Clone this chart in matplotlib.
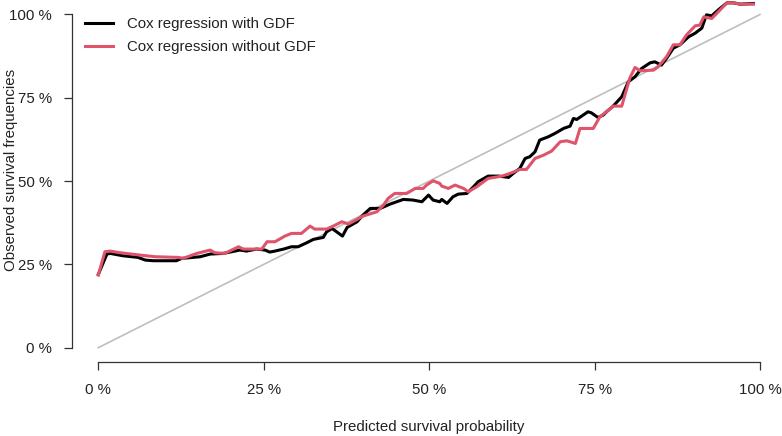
import matplotlib
matplotlib.use("Agg")
import matplotlib.pyplot as plt

plt.rcParams['font.family'] = ['Liberation Sans', 'DejaVu Sans']

# Data
black_x = [0.000, 0.013, 0.018, 0.037, 0.060, 0.071, 0.083, 0.118, 0.126, 0.154,
           0.169, 0.189, 0.214, 0.224, 0.239, 0.252, 0.259, 0.267, 0.280, 0.292,
           0.302, 0.315, 0.325, 0.340, 0.345, 0.353, 0.360, 0.369, 0.376, 0.391,
           0.400, 0.411, 0.426, 0.441, 0.451, 0.461, 0.476, 0.489, 0.499, 0.506,
           0.516, 0.519, 0.527, 0.536, 0.544, 0.557, 0.567, 0.574, 0.589, 0.605,
           0.620, 0.627, 0.637, 0.645, 0.652, 0.660, 0.667, 0.680, 0.690, 0.703,
           0.713, 0.718, 0.723, 0.740, 0.745, 0.755, 0.763, 0.768, 0.778, 0.791,
           0.801, 0.811, 0.821, 0.834, 0.841, 0.851, 0.859, 0.869, 0.879, 0.892,
           0.902, 0.912, 0.919, 0.927, 0.937, 0.950, 0.960, 0.970, 0.990]
black_y = [0.220, 0.281, 0.283, 0.276, 0.271, 0.263, 0.261, 0.261, 0.268, 0.273,
           0.281, 0.283, 0.293, 0.290, 0.296, 0.293, 0.287, 0.290, 0.296, 0.303,
           0.303, 0.315, 0.325, 0.331, 0.348, 0.358, 0.348, 0.335, 0.361, 0.378,
           0.398, 0.418, 0.418, 0.431, 0.438, 0.445, 0.443, 0.438, 0.458, 0.443,
           0.438, 0.445, 0.433, 0.453, 0.461, 0.463, 0.483, 0.498, 0.515, 0.515,
           0.511, 0.523, 0.538, 0.568, 0.573, 0.588, 0.623, 0.633, 0.643, 0.658,
           0.665, 0.688, 0.685, 0.708, 0.705, 0.691, 0.698, 0.708, 0.725, 0.753,
           0.798, 0.813, 0.838, 0.855, 0.858, 0.848, 0.869, 0.899, 0.909, 0.933,
           0.944, 0.959, 0.999, 0.996, 1.014, 1.035, 1.035, 1.031, 1.033]

red_x = [0.000, 0.010, 0.018, 0.033, 0.063, 0.086, 0.121, 0.128, 0.149, 0.169,
         0.176, 0.191, 0.212, 0.219, 0.247, 0.255, 0.267, 0.282, 0.292, 0.307,
         0.320, 0.327, 0.345, 0.355, 0.368, 0.378, 0.391, 0.400, 0.421, 0.431,
         0.438, 0.448, 0.466, 0.479, 0.491, 0.496, 0.506, 0.516, 0.519, 0.529,
         0.539, 0.552, 0.559, 0.572, 0.589, 0.610, 0.622, 0.637, 0.647, 0.660,
         0.673, 0.685, 0.698, 0.708, 0.721, 0.728, 0.748, 0.758, 0.771, 0.778,
         0.791, 0.803, 0.811, 0.819, 0.839, 0.846, 0.859, 0.869, 0.879, 0.889,
         0.902, 0.909, 0.915, 0.927, 0.950, 0.960, 0.970, 0.990]
red_y = [0.218, 0.288, 0.290, 0.285, 0.278, 0.273, 0.271, 0.268, 0.283, 0.293,
         0.285, 0.283, 0.303, 0.296, 0.296, 0.318, 0.318, 0.335, 0.343, 0.343,
         0.365, 0.356, 0.356, 0.365, 0.378, 0.371, 0.385, 0.395, 0.408, 0.428,
         0.448, 0.463, 0.463, 0.478, 0.478, 0.488, 0.501, 0.493, 0.485, 0.478,
         0.488, 0.478, 0.468, 0.483, 0.508, 0.515, 0.523, 0.535, 0.535, 0.568,
         0.578, 0.590, 0.618, 0.621, 0.613, 0.658, 0.658, 0.693, 0.713, 0.725,
         0.725, 0.808, 0.841, 0.831, 0.833, 0.843, 0.874, 0.909, 0.909, 0.939,
         0.966, 0.968, 0.993, 0.988, 1.035, 1.035, 1.031, 1.031]

diag = [0.0, 1.0]
ticks = [0.0, 0.25, 0.5, 0.75, 1.0]
tick_labels = ["0 %", "25 %", "50 %", "75 %", "100 %"]

W, H = 782, 436
fig = plt.figure(figsize=(W / 100, H / 100), dpi=100)
left_px, bottom_px = 71.7, 361.7
ax = fig.add_axes([left_px / W, (H - bottom_px) / H, (W - left_px) / W, bottom_px / H])
ax.set_xlim(-0.0402, 1.0332)
ax.set_ylim(-0.042, 1.0435)

ax.plot(diag, diag, color='#BEBEBE', lw=1.2, zorder=1)
ax.plot(black_x, black_y, color='black', lw=2.2, zorder=2, clip_on=False,
        label="Cox regression with GDF")
ax.plot(red_x, red_y, color='#DF536B', lw=2.2, zorder=3, clip_on=False,
        label="Cox regression without GDF")

for s in ['top', 'right']:
    ax.spines[s].set_visible(False)
ax.spines['left'].set_bounds(0, 1)
ax.spines['bottom'].set_bounds(0, 1)
for s in ['left', 'bottom']:
    ax.spines[s].set_color('#333333')
    ax.spines[s].set_linewidth(0.9)

fs = 10.8
ax.set_xticks(ticks)
ax.set_xticklabels(tick_labels)
ax.set_yticks(ticks)
ax.set_yticklabels(tick_labels)
ax.tick_params(axis='both', length=5.8, width=0.9, color='#333333',
               labelsize=fs, labelcolor='#222222')
ax.tick_params(axis='y', pad=8.5)
ax.tick_params(axis='x', pad=9.5)

fig.text(429 / W, 1 - 427 / H, "Predicted survival probability", ha='center', va='center',
         fontsize=fs, color='#222222')
fig.text(11.5 / W, 1 - 170 / H, "Observed survival frequencies", ha='center', va='center',
         rotation=90, fontsize=fs, color='#222222')

leg = ax.legend(loc='upper left', bbox_to_anchor=(85 / W, 1 - 17 / H),
                bbox_transform=fig.transFigure, frameon=False, fontsize=fs,
                handlelength=1.87, handletextpad=0.9, labelspacing=0.6,
                borderpad=0, borderaxespad=0)
for t in leg.get_texts():
    t.set_color('#222222')

fig.savefig("out.png", dpi=100)
